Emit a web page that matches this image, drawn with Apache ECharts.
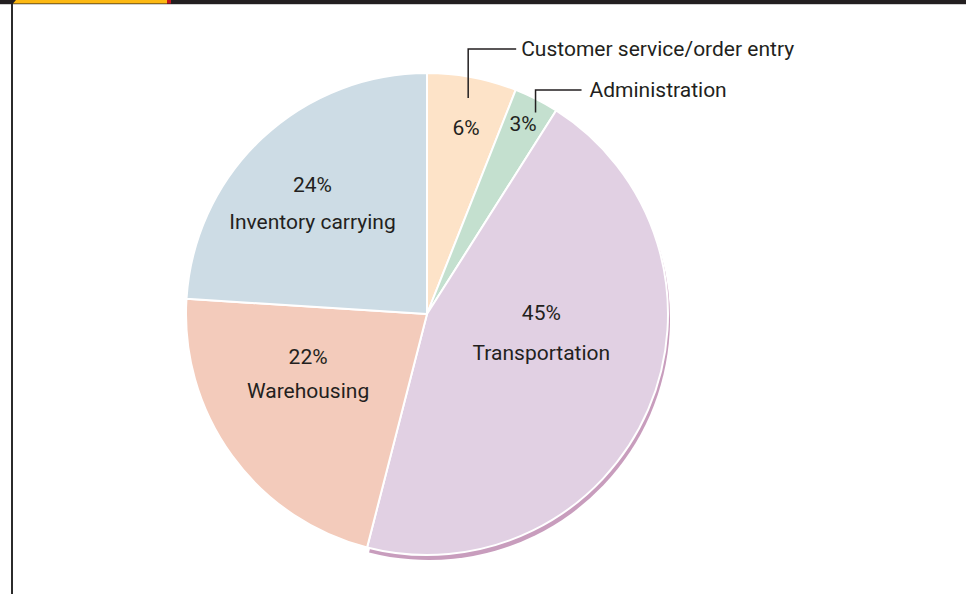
<!DOCTYPE html>
<html>
<head>
<meta charset="utf-8">
<script src="https://cdn.jsdelivr.net/npm/echarts@6/dist/echarts.min.js"></script>
<style>
html,body{margin:0;padding:0;background:#fff;}
#c{width:966px;height:594px;}
</style>
</head>
<body>
<div id="c"></div>
<script>
// ---- data ----
const categories = ['Customer service/order entry', 'Administration', 'Transportation', 'Warehousing', 'Inventory carrying'];
const values = [6, 3, 45, 22, 24];
const percentLabels = ['6%', '3%', '45%', '22%', '24%'];

// ---- styling ----
const colors = ['#fde3c8', '#c4e0cf', '#e1d0e3', '#f3cbbb', '#cddce5'];
const textColor = '#231f20';
const FONT = 'Roboto';
const FS = 21;
const CX = 427, CY = 314, R = 241;
// per-slice label offsets from default inside position, line height
const labelCfg = [
  {withName: false, dx: 16, dy: -65, lh: 0},
  {withName: false, dx: 40, dy: -80, lh: 0},
  {withName: true, dx: 1, dy: -30, lh: 40},
  {withName: true, dx: -19, dy: -13, lh: 34},
  {withName: true, dx: -30, dy: -20, lh: 37}
];
// callouts for small slices: anchor radius factor, angle offset (deg), elbow y, horizontal length
const callouts = [
  {idx: 0, rf: 0.912, da: 0, elbowY: 49, len: 48, gap: 5},
  {idx: 1, rf: 0.95, da: 1.3, elbowY: 90, len: 46, gap: 8}
];

const total = values.reduce((a, b) => a + b, 0);
function midAngle(i) {
  let s = 0;
  for (let k = 0; k < i; k++) s += values[k];
  return ((s + values[i] / 2) / total) * 2 * Math.PI; // clockwise from 12 o'clock
}

const mainData = categories.map((n, i) => {
  const c = labelCfg[i];
  const fmt = c.withName ? '{p|' + percentLabels[i] + '}\n{n|' + n + '}' : '{p|' + percentLabels[i] + '}';
  return {
    name: n,
    value: values[i],
    itemStyle: {color: colors[i]},
    label: {
      formatter: fmt,
      rich: {
        p: {fontFamily: FONT, fontSize: FS, color: textColor, lineHeight: c.lh || 24},
        n: {fontFamily: FONT, fontSize: FS, color: textColor, lineHeight: c.lh || 24}
      }
    }
  };
});

const shadowData = categories.map((n, i) => ({
  name: n,
  value: values[i],
  itemStyle: {color: i === 2 ? '#c89dbd' : 'rgba(0,0,0,0)'}
}));

const graphics = [
  {type: 'rect', shape: {x: 0, y: 0, width: 966, height: 4}, style: {fill: '#231f20'}, z: 10},
  {type: 'rect', shape: {x: 0, y: 4, width: 966, height: 1}, style: {fill: '#d0d0d0'}, z: 10},
  {type: 'polygon', shape: {points: [[13, 3.5], [16, 0], [167, 0], [167, 3.5]]}, style: {fill: '#fdb913'}, z: 11},
  {type: 'rect', shape: {x: 167, y: 0, width: 4, height: 3.5}, style: {fill: '#c4161c'}, z: 11},
  {type: 'rect', shape: {x: 11, y: 4, width: 2, height: 590}, style: {fill: '#2b2b2b'}, z: 10}
];

callouts.forEach(c => {
  const a = midAngle(c.idx) + c.da * Math.PI / 180;
  const x = CX + R * c.rf * Math.sin(a);
  const y = CY - R * c.rf * Math.cos(a);
  graphics.push({
    type: 'polyline',
    shape: {points: [[x, y], [x, c.elbowY], [x + c.len, c.elbowY]]},
    style: {stroke: textColor, lineWidth: 1.5, fill: null},
    z: 20
  });
  graphics.push({
    type: 'text',
    x: x + c.len + c.gap,
    y: c.elbowY,
    style: {text: categories[c.idx], fill: textColor, font: FS + 'px ' + FONT, textAlign: 'left', textVerticalAlign: 'middle'},
    z: 20
  });
});

const chart = echarts.init(document.getElementById('c'), null, {renderer: 'svg'});
chart.setOption({
  animation: false,
  backgroundColor: '#ffffff',
  graphic: graphics,
  series: [
    {
      type: 'pie',
      silent: true,
      z: 1,
      center: [CX + 2, CY + 5],
      radius: R,
      startAngle: 90,
      clockwise: true,
      label: {show: false},
      labelLine: {show: false},
      data: shadowData
    },
    {
      type: 'pie',
      z: 2,
      center: [CX, CY],
      radius: R,
      startAngle: 90,
      clockwise: true,
      itemStyle: {borderColor: '#ffffff', borderWidth: 2},
      label: {show: true, position: 'inside', align: 'center', verticalAlign: 'middle'},
      labelLine: {show: false},
      labelLayout: function (p) {
        const c = labelCfg[p.dataIndex];
        return {dx: c.dx, dy: c.dy};
      },
      emphasis: {disabled: true},
      data: mainData
    }
  ]
});
</script>
</body>
</html>
